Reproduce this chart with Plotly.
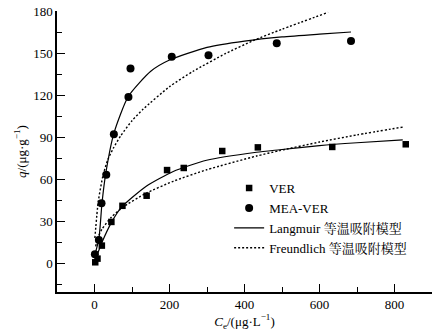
import plotly.graph_objects as go

# Measured data
ver_c = [2, 8, 19.6, 45, 74.5, 139, 193.5, 238, 340.6, 435.6, 634, 830]
ver_q = [0.7, 3.3, 12.6, 29.5, 41, 48.2, 66.5, 68, 80.1, 82.7, 83, 84.9]
mea_c = [1, 11.6, 18.7, 31.4, 51.6, 90.5, 96, 206, 304, 486, 684]
mea_q = [6.4, 16.6, 42.8, 63.2, 92, 118.6, 139, 147.4, 148.4, 157, 158.6]

# Model curves
mea_lang_c = [2, 12, 20, 30, 52, 90, 150, 200, 300, 400, 500, 600, 684]
mea_lang_q = [7, 18, 43, 64, 93, 119, 137, 145, 154, 158.5, 161.5, 163.5, 165]
mea_freu_c = [1, 10, 23, 35, 50, 70, 100, 130, 200, 263, 350, 423, 500, 623]
mea_freu_q = [18, 44, 63, 73.5, 82, 91, 101.7, 110, 126, 137, 149.7, 158.8, 167, 179]
ver_lang_c = [2, 10, 20, 45, 72, 138, 210, 299, 432, 494, 600, 700, 822]
ver_lang_q = [1.5, 8, 15, 29, 40, 55, 65.5, 73.5, 79.2, 81, 84, 86, 88]
ver_freu_c = [3, 10, 20, 45, 75, 138, 210, 299, 432, 494, 600, 700, 827]
ver_freu_q = [12, 18.8, 24.4, 32.9, 39.9, 50, 58.5, 66.7, 76.5, 80.4, 86.5, 91.6, 97.4]

x_ticks = [0, 200, 400, 600, 800]
y_ticks = [0, 30, 60, 90, 120, 150, 180]

FONT = "Liberation Serif, Times New Roman, Noto Serif CJK SC, Noto Sans CJK SC, serif"
DOT = "2px,2px"

fig = go.Figure()
fig.add_trace(go.Scatter(x=ver_c, y=ver_q, mode="markers", name="VER",
                         marker=dict(symbol="square", size=6.5, color="black")))
fig.add_trace(go.Scatter(x=mea_c, y=mea_q, mode="markers", name="MEA-VER",
                         marker=dict(symbol="circle", size=8, color="black")))
fig.add_trace(go.Scatter(x=mea_lang_c, y=mea_lang_q, mode="lines", name="Langmuir 等温吸附模型",
                         line=dict(color="black", width=1.2, shape="spline", smoothing=0.6)))
fig.add_trace(go.Scatter(x=mea_freu_c, y=mea_freu_q, mode="lines", name="Freundlich 等温吸附模型",
                         line=dict(color="black", width=1.4, dash=DOT, shape="spline", smoothing=0.6)))
fig.add_trace(go.Scatter(x=ver_lang_c, y=ver_lang_q, mode="lines", showlegend=False,
                         line=dict(color="black", width=1.2, shape="spline", smoothing=0.6)))
fig.add_trace(go.Scatter(x=ver_freu_c, y=ver_freu_q, mode="lines", showlegend=False,
                         line=dict(color="black", width=1.4, dash=DOT, shape="spline", smoothing=0.6)))

fig.update_layout(
    width=441, height=336,
    margin=dict(l=57, r=9, t=11, b=44, autoexpand=False),
    paper_bgcolor="white", plot_bgcolor="white",
    font=dict(family=FONT, size=13, color="black"),
    legend=dict(x=0.459, y=0.423, xanchor="left", yanchor="top",
                bgcolor="rgba(0,0,0,0)", font=dict(family=FONT, size=13), tracegroupgap=0,
                itemwidth=30),
    xaxis=dict(range=[-100, 900], tickvals=x_ticks, ticks="inside", ticklen=8,
               tickwidth=1.2, tickcolor="black", showline=True, linecolor="black",
               linewidth=1.5, showgrid=False, zeroline=False, automargin=False,
               minor=dict(dtick=100, tick0=0, ticks="inside", ticklen=5, tickcolor="black", tickwidth=1.2),
               title=dict(text="<i>C</i><sub>e</sub>/(μg·L<sup>−1</sup>)", standoff=2,
                          font=dict(family=FONT, size=13))),
    yaxis=dict(range=[-20.5, 180], tickvals=y_ticks, ticks="inside", ticklen=8,
               tickwidth=1.2, tickcolor="black", showline=True, linecolor="black",
               linewidth=1.5, showgrid=False, zeroline=False, automargin=False,
               minor=dict(dtick=15, tick0=0, ticks="inside", ticklen=5, tickcolor="black", tickwidth=1.2),
               title=dict(text="<i>q</i>/(μg·g<sup>−1</sup>)", standoff=4,
                          font=dict(family=FONT, size=13))),
)

fig.write_html("out.html", config={"displayModeBar": False},
               post_script="document.body.style.margin='0';")
